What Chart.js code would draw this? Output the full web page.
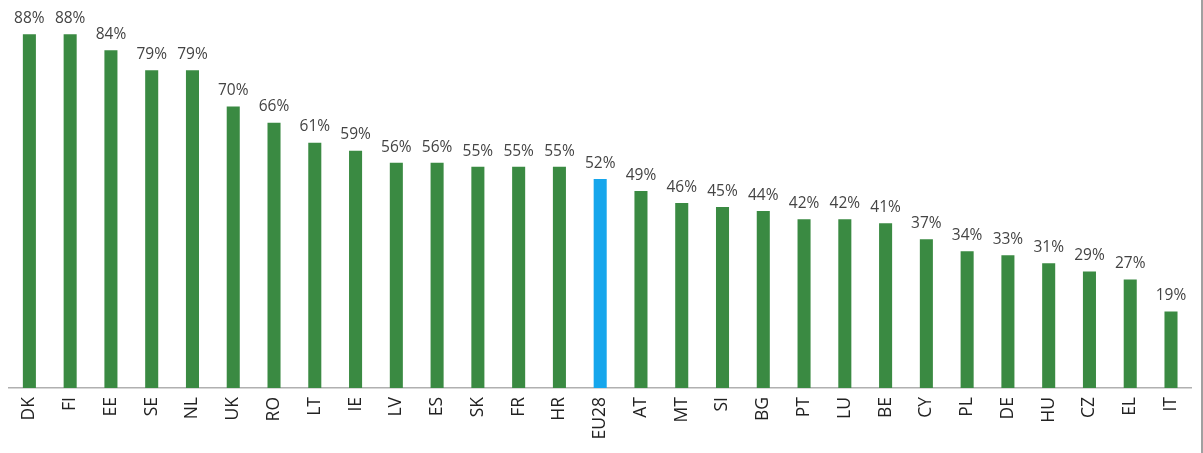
<!DOCTYPE html>
<html>
<head>
<meta charset="utf-8">
<script src="https://cdn.jsdelivr.net/npm/chart.js@4/dist/chart.umd.min.js"></script>
<style>
    html, body { margin: 0; padding: 0; background: #fff; }
    #wrap {
        position: relative;
        width: 1203px;
        height: 453px;
        box-sizing: border-box;
        border-right: 2px solid #a0a0a0;
    }
</style>
</head>
<body>
<div id="wrap"><canvas id="chart"></canvas></div>
<script>
// 国家代码和百分比
const countries = ['DK', 'FI', 'EE', 'SE', 'NL', 'UK', 'RO', 'LT', 'IE', 'LV', 'ES', 'SK', 'FR', 'HR', 'EU28',
    'AT', 'MT', 'SI', 'BG', 'PT', 'LU', 'BE', 'CY', 'PL', 'DE', 'HU', 'CZ', 'EL', 'IT'];
const shares = [88, 88, 84, 79, 79, 70, 66, 61, 59, 56, 56, 55, 55, 55, 52,
    49, 46, 45, 44, 42, 42, 41, 37, 34, 33, 31, 29, 27, 19];

const GREEN = '#3a8a42';
const BLUE = '#16a6ec';

// 柱子上方的数值标签
const valueLabels = {
    id: 'valueLabels',
    afterDatasetsDraw(chart) {
        const ctx = chart.ctx;
        const meta = chart.getDatasetMeta(0);
        ctx.save();
        ctx.font = '15.5px "Open Sans", sans-serif';
        ctx.fillStyle = '#444';
        ctx.textAlign = 'center';
        ctx.textBaseline = 'bottom';
        meta.data.forEach((bar, i) => {
            ctx.fillText(shares[i] + '%', bar.x, bar.y - 8);
        });
        ctx.restore();
    }
};

new Chart(document.getElementById('chart'), {
    type: 'bar',
    data: {
        labels: countries,
        datasets: [{
            data: shares,
            backgroundColor: countries.map(c => c === 'EU28' ? BLUE : GREEN),
            barPercentage: 0.64,
            categoryPercentage: 0.5
        }]
    },
    options: {
        responsive: true,
        maintainAspectRatio: false,
        animation: false,
        layout: { padding: { top: 2, left: 9, right: 0, bottom: 0 } },
        plugins: {
            legend: { display: false },
            tooltip: { enabled: false }
        },
        scales: {
            x: {
                grid: { display: false, drawTicks: false },
                border: { display: true, color: '#b0b0b0', width: 1.5 },
                ticks: {
                    minRotation: 90,
                    maxRotation: 90,
                    padding: 9,
                    color: '#222',
                    font: { family: '"Open Sans", sans-serif', size: 17.5 }
                },
                afterFit(scale) { scale.height = 65; }
            },
            y: {
                display: false,
                min: 0,
                max: 96
            }
        }
    },
    plugins: [valueLabels]
});
</script>
</body>
</html>
